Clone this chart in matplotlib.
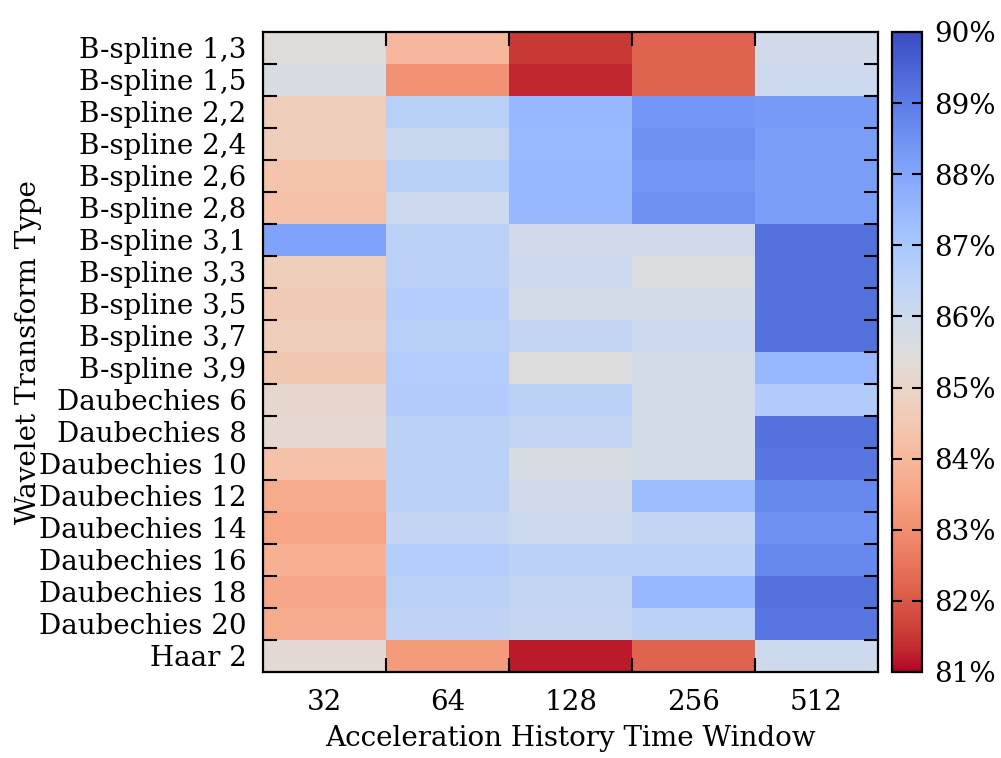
import numpy as np
import matplotlib
matplotlib.use("Agg")
import matplotlib.pyplot as plt
from matplotlib.ticker import FuncFormatter

plt.rcParams["font.family"] = ["DejaVu Serif"]

wavelets = [
    "B-spline 1,3", "B-spline 1,5", "B-spline 2,2", "B-spline 2,4",
    "B-spline 2,6", "B-spline 2,8", "B-spline 3,1", "B-spline 3,3",
    "B-spline 3,5", "B-spline 3,7", "B-spline 3,9", "Daubechies 6",
    "Daubechies 8", "Daubechies 10", "Daubechies 12", "Daubechies 14",
    "Daubechies 16", "Daubechies 18", "Daubechies 20", "Haar 2",
]
windows = ["32", "64", "128", "256", "512"]

# accuracy (%) per wavelet, one list per time window
acc_32 = [85.4, 85.7, 84.7, 84.7, 84.4, 84.3, 88.1, 84.7, 84.6, 84.7,
          84.5, 85.1, 85.2, 84.3, 83.7, 83.5, 83.8, 83.6, 83.7, 85.3]
acc_64 = [84.0, 83.1, 86.6, 86.1, 86.6, 86.0, 86.5, 86.5, 86.7, 86.6,
          86.7, 86.8, 86.5, 86.5, 86.5, 86.3, 86.7, 86.5, 86.4, 83.3]
acc_128 = [81.5, 81.3, 87.5, 87.4, 87.5, 87.5, 85.9, 86.0, 85.8, 86.3,
           85.5, 86.5, 86.3, 85.7, 85.9, 86.0, 86.5, 86.3, 86.2, 81.2]
acc_256 = [82.2, 82.2, 88.4, 88.5, 88.4, 88.5, 85.9, 85.6, 85.8, 86.0,
           85.8, 85.8, 85.8, 85.8, 87.3, 86.3, 86.5, 87.5, 86.5, 82.2]
acc_512 = [85.9, 86.0, 88.3, 88.2, 88.2, 88.2, 89.2, 89.2, 89.2, 89.2,
           87.5, 86.8, 89.2, 89.1, 88.7, 88.5, 88.7, 89.2, 89.1, 86.0]

data = np.column_stack([acc_32, acc_64, acc_128, acc_256, acc_512])

fig = plt.figure(figsize=(10.01, 7.58), dpi=100)
ax = fig.add_axes([0.263, 0.1135, 0.614, 0.8443])
cax = fig.add_axes([0.891, 0.1135, 0.030, 0.8443])

im = ax.imshow(data, cmap="coolwarm_r", vmin=81, vmax=90, aspect="auto",
               interpolation="nearest")

fs = 20
ax.set_xticks(np.arange(len(windows)))
ax.set_xticklabels(windows, fontsize=fs)
ax.set_yticks(np.arange(len(wavelets)))
ax.set_yticklabels(wavelets, fontsize=fs)
ax.tick_params(axis="y", which="major", length=0, pad=12)
ax.tick_params(axis="x", which="major", length=0, pad=12)

# boundary ticks between cells
ax.set_xticks(np.arange(len(windows) - 1) + 0.5, minor=True)
ax.set_yticks(np.arange(len(wavelets) - 1) + 0.5, minor=True)
ax.tick_params(which="minor", direction="in", length=10, width=1.5,
               top=True, bottom=True, left=True, right=True)

for s in ax.spines.values():
    s.set_linewidth(1.6)

ax.set_xlabel("Acceleration History Time Window", fontsize=fs, labelpad=7)
ax.set_ylabel("Wavelet Transform Type", fontsize=fs, labelpad=-2)

cb = fig.colorbar(im, cax=cax)
cb.set_ticks(np.arange(81, 91))
cb.ax.yaxis.set_major_formatter(FuncFormatter(lambda v, p: f"{v:.0f}%"))
cb.ax.tick_params(direction="in", length=7, width=1.5, left=True, right=True,
                  labelsize=fs, pad=9)
cb.outline.set_linewidth(1.6)

fig.savefig("out.png", dpi=100)
